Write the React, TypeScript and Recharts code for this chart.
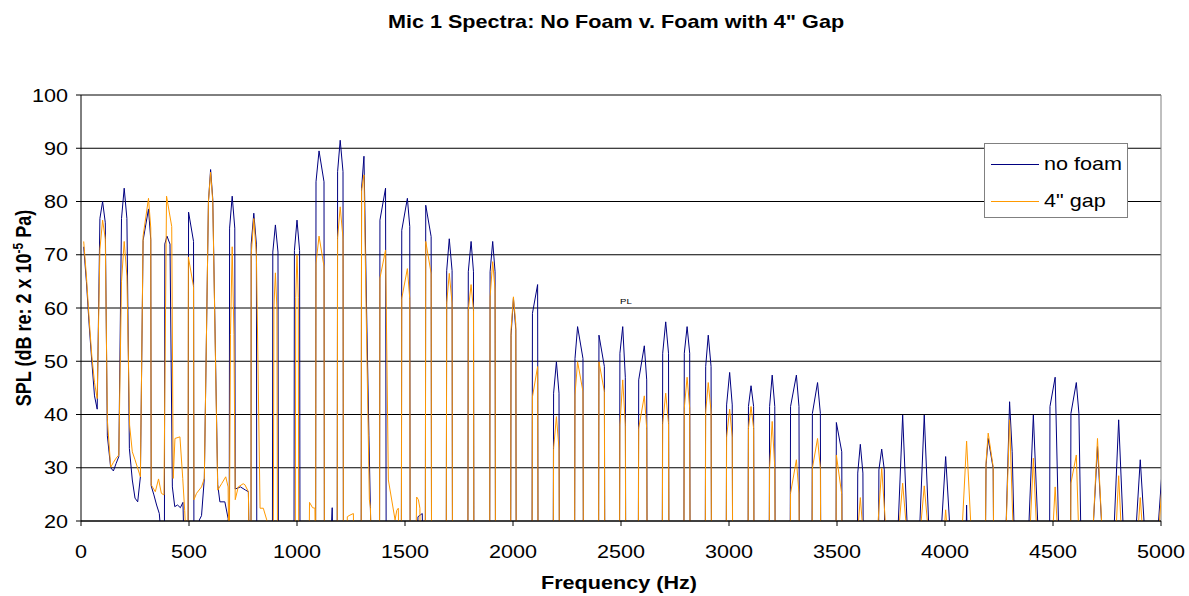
import React from 'react';
import { LineChart, Line, XAxis, YAxis, CartesianGrid, Legend, ReferenceLine } from 'recharts';

const FONT = '"Liberation Sans", Arial, Helvetica, sans-serif';

const xTicks = [0, 500, 1000, 1500, 2000, 2500, 3000, 3500, 4000, 4500, 5000];
const yTicks = [20, 30, 40, 50, 60, 70, 80, 90, 100];
const seriesNames = ['no foam', '4" gap'];
const seriesColors = ['#000080', '#FF9900'];

// [frequency Hz, SPL dB] (values under 20 dB are off-scale estimates)
const noFoam: [number, number][] = [
  [12.5, 71.5], [25, 65], [37.5, 57], [50, 50], [62.5, 43.5], [75, 41],
  [87.5, 76.8], [100, 80], [112.5, 76],
  [122, 36], [137.5, 30], [150, 29.4], [162.5, 30.8], [175, 32.1],
  [187.5, 76.8], [200, 82.5], [212.5, 76.8],
  [224, 33.6], [237.5, 27.7], [250, 24.3], [262.5, 23.6], [275, 28.3],
  [287.5, 72.7], [312.5, 78.6], [323, 72.8],
  [325, 26.6], [337.5, 24.9], [350, 23], [362.5, 21.4], [375, 15], [386, 10],
  [388, 72], [398, 73.5], [412, 72],
  [423, 26.4], [434, 22.7], [447, 23], [460, 22.5], [472, 23.5], [480, 10],
  [496, 10], [498, 78], [521, 72.5], [523, 10],
  [540, 10], [548, 20.2], [558, 21], [571, 28],
  [590, 80], [600, 86], [610, 80.5],
  [633, 26.8], [643, 23.6], [666, 23.6], [681, 20.5], [686, 10],
  [688, 75], [700, 81], [712, 75],
  [714, 26], [738, 26.4], [762, 25.8], [775, 25.5], [780, 10],
  [787, 10], [788, 72], [800, 77.8], [812, 72], [814, 10],
  [886, 10], [888, 70.5], [900, 75.6], [912, 70.5], [914, 10],
  [986, 10], [988, 70.8], [1000, 76.5], [1012, 70.8], [1014, 10],
  [1086, 10], [1088, 83.7], [1102, 89.5], [1125, 83.7], [1127, 10],
  [1155, 15], [1163, 22.5], [1168, 10],
  [1186, 10], [1188, 85.6], [1200, 91.5], [1213, 85.6], [1215, 10],
  [1297, 10], [1299, 82.5], [1310, 88.5], [1322, 60], [1333, 36], [1340, 22], [1346, 10],
  [1382, 10], [1384, 76.5], [1410, 82.5], [1413, 10],
  [1483, 10], [1485, 74.6], [1511, 80.6], [1522, 75.3], [1524, 10],
  [1555, 10], [1560, 20.8], [1580, 21.4], [1584, 10],
  [1594, 10], [1596, 79.3], [1621, 73.4], [1623, 10],
  [1691, 10], [1693, 67], [1705, 73], [1718, 67], [1720, 10],
  [1791, 10], [1793, 66.8], [1806, 72.5], [1817, 66.8], [1819, 10],
  [1892, 10], [1894, 66.8], [1906, 72.5], [1917, 66.8], [1919, 10],
  [1989, 10], [1991, 54.9], [2002, 61.8], [2013, 55.9], [2015, 10],
  [2088, 10], [2090, 59], [2114, 64.4], [2116, 10],
  [2186, 10], [2188, 44], [2201, 49.9], [2213, 44], [2215, 10],
  [2285, 10], [2287, 50.5], [2299, 56.5], [2324, 50.5], [2326, 10],
  [2396, 10], [2398, 54.9], [2423, 49], [2425, 10],
  [2493, 10], [2495, 51.5], [2508, 56.5], [2520, 47], [2522, 10],
  [2580, 10], [2582, 46.5], [2608, 52.9], [2619, 46.5], [2621, 10],
  [2691, 10], [2693, 51.5], [2707, 57.4], [2720, 51.5], [2722, 10],
  [2791, 10], [2793, 51.5], [2806, 56.5], [2818, 51.5], [2820, 10],
  [2890, 10], [2892, 49], [2904, 54.9], [2917, 49], [2919, 10],
  [2987, 10], [2989, 41.8], [3003, 47.9], [3015, 41.8], [3017, 10],
  [3088, 10], [3090, 41.5], [3102, 45.4], [3114, 41.5], [3116, 10],
  [3186, 10], [3188, 41.5], [3200, 47.4], [3212, 41.5], [3214, 10],
  [3283, 10], [3285, 41.5], [3312, 47.4], [3324, 41.5], [3326, 10],
  [3384, 10], [3386, 40.2], [3410, 46], [3423, 40.2], [3425, 10],
  [3495, 10], [3497, 38.5], [3522, 33], [3524, 10],
  [3594, 10], [3596, 29], [3608, 34.4], [3620, 29], [3622, 10],
  [3692, 10], [3694, 29.6], [3707, 33.5], [3719, 29.6], [3721, 10],
  [3779, 15], [3804, 39.9], [3829, 15],
  [3879, 15], [3904, 39.9], [3929, 15],
  [3978, 15], [4003, 32.1], [4028, 15],
  [4095, 10], [4100, 23], [4105, 10],
  [4186, 10], [4190, 30.5], [4200, 35.5], [4223, 29.9], [4226, 10],
  [4280, 15], [4299, 42.4], [4311, 33], [4325, 10],
  [4384, 15], [4409, 39.9], [4434, 15],
  [4484, 10], [4486, 41.5], [4510, 47], [4528, 15],
  [4581, 10], [4583, 40.2], [4608, 46], [4620, 40.2], [4630, 15],
  [4681, 15], [4706, 34], [4731, 15],
  [4779, 15], [4804, 39], [4829, 15],
  [4879, 15], [4904, 31.5], [4929, 15],
  [4980, 15], [5003, 28.3],
];

const gap4in: [number, number][] = [
  [12.5, 72.5], [25, 66], [37.5, 58], [50, 51], [62.5, 46], [75, 43],
  [87.5, 71], [100, 76.5], [112.5, 73],
  [122, 39], [137.5, 30.1], [150, 31], [162.5, 31.8], [175, 32.4],
  [187.5, 65], [200, 72.5], [212.5, 66],
  [225, 38], [237.5, 33], [250, 31.5], [262.5, 29.9], [275, 28.3],
  [287.5, 73.5], [312.5, 80.6], [323, 75],
  [325, 26.8], [344, 25.5], [359, 27.9], [372, 25.2], [384, 24.9],
  [396, 81], [420, 75.3],
  [427, 28], [435, 35.5], [458, 35.8], [471, 28], [480, 22], [495, 10],
  [497, 69.6], [521, 64],
  [523, 24], [535, 25.2], [558, 26.4], [571, 28],
  [590, 80], [600, 85.5], [610, 80],
  [633, 25.8], [651, 27], [670, 28.3], [681, 26.4], [686, 10],
  [692, 55], [700, 71.5], [708, 55],
  [714, 24], [728, 26.4], [751, 27], [759, 26.8], [775, 25.5], [780, 10],
  [787, 10], [788, 70], [800, 76.8], [812, 70],
  [829, 22.4], [844, 22.4], [860, 20.2], [866, 10],
  [890, 10], [893, 60], [900, 66.6], [907, 60], [910, 10],
  [992, 10], [994, 62], [1000, 70], [1006, 62], [1008, 10],
  [1055, 10], [1058, 23.5], [1072, 22.5], [1083, 22.4], [1086, 10],
  [1088, 68.4], [1102, 73.5], [1125, 67.8], [1127, 10],
  [1186, 10], [1188, 73.1], [1200, 79], [1213, 73.1], [1215, 10],
  [1230, 10], [1233, 20.8], [1245, 21.1], [1261, 21.4], [1265, 10],
  [1297, 10], [1299, 82], [1310, 85], [1322, 55], [1335, 24], [1340, 22.5], [1346, 10],
  [1382, 10], [1384, 65.6], [1410, 70.9], [1423, 27.7], [1454, 20.2], [1462, 22], [1469, 22.4], [1474, 10],
  [1483, 10], [1485, 61.8], [1511, 67.4], [1522, 61.8], [1524, 10],
  [1548, 10], [1554, 24.5], [1562, 24], [1569, 22.4], [1572, 10],
  [1594, 10], [1596, 72.5], [1621, 66.5], [1623, 10],
  [1691, 10], [1693, 60.9], [1705, 66.5], [1718, 60.9], [1720, 10],
  [1791, 10], [1793, 59.6], [1806, 64.4], [1817, 59.6], [1819, 10],
  [1892, 10], [1894, 62.1], [1906, 68.7], [1917, 63.4], [1919, 10],
  [1989, 10], [1991, 56], [2002, 62.1], [2013, 57], [2015, 10],
  [2088, 10], [2090, 43.3], [2114, 49], [2116, 10],
  [2186, 10], [2188, 33.6], [2201, 39.6], [2213, 33.6], [2215, 10],
  [2285, 10], [2287, 43.7], [2299, 49.9], [2324, 44.3], [2326, 10],
  [2396, 10], [2398, 49.9], [2423, 44.3], [2425, 10],
  [2493, 10], [2495, 38], [2508, 46.5], [2520, 38], [2522, 10],
  [2580, 10], [2582, 37.4], [2608, 43.5], [2619, 37.4], [2621, 10],
  [2691, 10], [2693, 38.3], [2707, 44], [2720, 38.3], [2722, 10],
  [2791, 10], [2793, 41.2], [2806, 47], [2818, 41.2], [2820, 10],
  [2890, 10], [2892, 40.5], [2904, 46], [2917, 40.5], [2919, 10],
  [2987, 10], [2989, 35.8], [3003, 41], [3015, 35.8], [3017, 10],
  [3088, 10], [3090, 37.4], [3102, 41.5], [3114, 37.4], [3116, 10],
  [3186, 10], [3188, 30], [3200, 38.7], [3212, 30], [3214, 10],
  [3283, 10], [3285, 25.2], [3312, 31.5], [3324, 25.2], [3326, 10],
  [3384, 10], [3386, 29.9], [3410, 35.5], [3423, 29.9], [3425, 10],
  [3495, 10], [3497, 32.4], [3522, 25], [3524, 10],
  [3590, 15], [3608, 24.4], [3626, 15],
  [3682, 15], [3707, 29.9], [3732, 15],
  [3779, 15], [3804, 27.1], [3829, 15],
  [3879, 15], [3904, 26.6], [3929, 15],
  [3990, 15], [4003, 22.1], [4016, 15],
  [4075, 15], [4100, 35], [4125, 15],
  [4186, 10], [4190, 31], [4200, 36.5], [4223, 30.2], [4226, 10],
  [4280, 15], [4299, 39], [4318, 15],
  [4390, 15], [4409, 31.8], [4428, 15],
  [4495, 15], [4510, 26.4], [4525, 15],
  [4581, 10], [4583, 27.1], [4608, 32.4], [4621, 15],
  [4681, 15], [4706, 35.5], [4731, 15],
  [4788, 15], [4804, 28.5], [4820, 15],
  [4888, 15], [4904, 24.4], [4920, 15],
  [4985, 15], [5003, 26],
];

const toRows = (pts: [number, number][]) => pts.map(([hz, db]) => ({ hz, db }));
const noFoamRows = toRows(noFoam);
const gapRows = toRows(gap4in);

const XTick = (props: any) => {
  const { x, y, payload } = props;
  return (
    <text transform={`translate(${x},${y + 30}) scale(1.2,1)`} textAnchor="middle" fontSize={18} fill="#000" fontFamily={FONT}>
      {payload.value}
    </text>
  );
};

const YTick = (props: any) => {
  const { x, y, payload } = props;
  return (
    <text transform={`translate(${x - 6},${y + 6.5}) scale(1.2,1)`} textAnchor="end" fontSize={18} fill="#000" fontFamily={FONT}>
      {payload.value}
    </text>
  );
};

const LegendBox = () => (
  <svg width={145} height={76} style={{ display: 'block' }}>
    <rect x={0.5} y={0.5} width={143} height={74} fill="#fff" stroke="#808080" strokeWidth={1} />
    {seriesNames.map((name, i) => (
      <g key={name}>
        <line
          x1={7}
          x2={55}
          y1={21.5 + i * 37}
          y2={21.5 + i * 37}
          stroke={seriesColors[i]}
          strokeWidth={1.2}
          shapeRendering="crispEdges"
        />
        <text transform={`translate(60,${27 + i * 37}) scale(1.2,1)`} fontSize={18} fill="#000" fontFamily={FONT}>
          {name}
        </text>
      </g>
    ))}
  </svg>
);

export default function App() {
  return (
    <div style={{ position: 'absolute', left: 0, top: 0, width: 1189, height: 596, background: '#fff', fontFamily: FONT }}>
      <LineChart width={1189} height={596} margin={{ top: 95, right: 28, bottom: 45, left: 21 }}>
        <CartesianGrid horizontal vertical={false} stroke="#000" strokeWidth={1} />
        <XAxis
          type="number"
          dataKey="hz"
          domain={[0, 5000]}
          ticks={xTicks}
          allowDataOverflow
          height={30}
          stroke="#000"
          tickSize={5}
          tickMargin={2}
          tick={<XTick />}
          interval={0}
        />
        <YAxis
          type="number"
          domain={[20, 100]}
          ticks={yTicks}
          allowDataOverflow
          width={60}
          stroke="#000"
          tickSize={5}
          tickMargin={2}
          tick={<YTick />}
          interval={0}
        />
        <ReferenceLine x={5000} stroke="#808080" strokeWidth={1} />
        <Line
          data={noFoamRows}
          dataKey="db"
          name={seriesNames[0]}
          type="linear"
          stroke={seriesColors[0]}
          strokeWidth={1}
          dot={false}
          activeDot={false}
          isAnimationActive={false}
        />
        <Line
          data={gapRows}
          dataKey="db"
          name={seriesNames[1]}
          type="linear"
          stroke={seriesColors[1]}
          strokeWidth={1}
          dot={false}
          activeDot={false}
          isAnimationActive={false}
        />
        <Legend
          layout="horizontal"
          verticalAlign="middle"
          align="center"
          content={<LegendBox />}
          wrapperStyle={{ left: 984, top: 143, width: 145, height: 76 }}
        />
      </LineChart>
      <svg width={1189} height={596} style={{ position: 'absolute', left: 0, top: 0, pointerEvents: 'none' }}>
        <text transform="translate(616,28) scale(1.2,1)" textAnchor="middle" fontSize={18} fontWeight="bold" fill="#000" fontFamily={FONT}>
          Mic 1 Spectra: No Foam v. Foam with 4" Gap
        </text>
        <text transform="translate(619,589) scale(1.2,1)" textAnchor="middle" fontSize={18} fontWeight="bold" fill="#000" fontFamily={FONT}>
          Frequency (Hz)
        </text>
        <text transform="translate(31,308) scale(1.2,1) rotate(-90)" textAnchor="middle" fontSize={18} fontWeight="bold" fill="#000" fontFamily={FONT}>
          SPL (dB re: 2 x 10<tspan dy={-7} fontSize={12}>-5</tspan><tspan dy={7}> Pa)</tspan>
        </text>
        <text transform="translate(620,304) scale(1.2,1)" fontSize={8} fill="#000" fontFamily={FONT}>
          PL
        </text>
      </svg>
    </div>
  );
}
